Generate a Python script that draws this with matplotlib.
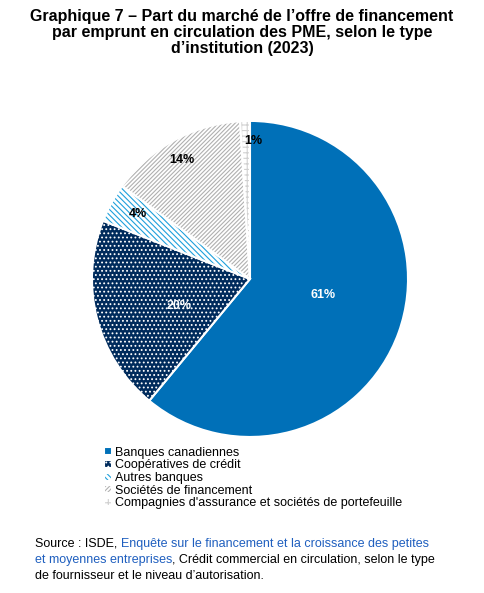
import matplotlib.pyplot as plt
import matplotlib as mpl

mpl.rcParams['font.family'] = ['Liberation Sans', 'DejaVu Sans']
mpl.rcParams['hatch.linewidth'] = 0.8

labels = ["Banques canadiennes", "Coopératives de crédit", "Autres banques",
          "Sociétés de financement", "Compagnies d'assurance et sociétés de portefeuille"]
values = [61, 20, 4, 14, 1]
pct_text = ["61%", "20%", "4%", "14%", "1%"]

faces = ["#0070b8", "#002b5c", "white", "white", "white"]
hatch_cols = ["#0070b8", "white", "#1ea0dc", "#b0b0b0", "#d0d0d0"]
hatches = [None, "....", "\\\\\\\\\\\\", "////////", "+++"]

fig = plt.figure(figsize=(4.84, 5.93), dpi=100)
fig.text(0.5, 0.985, "Graphique 7 – Part du marché de l’offre de financement\npar emprunt en circulation des PME, selon le type\nd’institution (2023)",
         ha="center", va="top", fontsize=11.5, fontweight="bold", linespacing=1.1)

ax = fig.add_axes([0.5165 - 0.3265, 0.5295 - 0.2664, 0.653, 0.533])
wedges, _ = ax.pie(values, startangle=90, counterclock=False,
                   wedgeprops=dict(linewidth=1.5, edgecolor="white"))
for w, fc, hc, h in zip(wedges, faces, hatch_cols, hatches):
    w.set_facecolor(fc)
    if h:
        w.set_hatch(h)
        w._hatch_color = mpl.colors.to_rgba(hc)
ax.set_xlim(-1, 1)
ax.set_ylim(-1, 1)
ax.set_aspect("equal")

pos = [(0.46, -0.1), (-0.45, -0.17), (-0.71, 0.41), (-0.43, 0.75), (0.02, 0.87)]
for (x, y), t, i in zip(pos, pct_text, range(5)):
    c = "white" if i < 2 else "black"
    ax.text(x, y, t, ha="center", va="center", fontsize=9, fontweight="bold", color=c)

fig.legend(wedges, labels, loc="upper left", bbox_to_anchor=(0.205, 0.255),
           frameon=False, fontsize=9, handlelength=0.6, handleheight=0.6,
           handletextpad=0.3, labelspacing=0.05, borderaxespad=0)

# source lines, with the link part in blue
link = "#1f5fbf"
lines = [[("Source : ISDE, ", "black"), ("Enquête sur le financement et la croissance des petites", link)],
         [("et moyennes entreprises", link), (", Crédit commercial en circulation, selon le type", "black")],
         [("de fournisseur et le niveau d’autorisation.", "black")]]
r = fig.canvas.get_renderer()
ys = [0.073, 0.046, 0.019]
for parts, y in zip(lines, ys):
    x = 0.072
    for s, c in parts:
        t = fig.text(x, y, s, fontsize=9, va="bottom", color=c)
        x += t.get_window_extent(r).width / fig.bbox.width

fig.savefig("out.png", dpi=100)
